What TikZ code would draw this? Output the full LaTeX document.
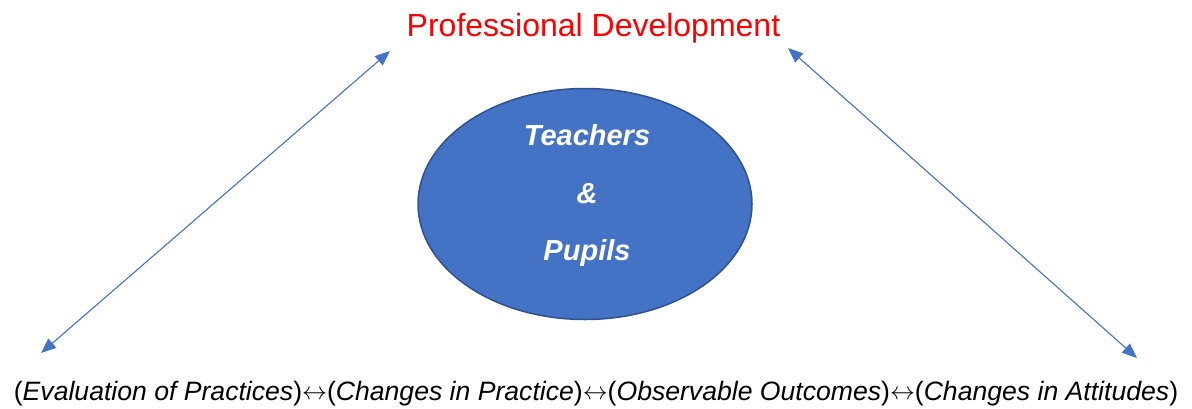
\documentclass[tikz,border=0pt]{standalone}
\usepackage{fontspec}
\setmainfont{Liberation Sans}
\usetikzlibrary{arrows.meta,shapes.geometric}
\definecolor{officeblue}{HTML}{4472C4}
\definecolor{officeedge}{HTML}{2F528F}
\definecolor{titlered}{HTML}{FF0000}
% thin two-headed arrow between stages
\newcommand{\stagelink}{\raisebox{1pt}{$\leftrightarrow$}}
\tikzset{
  link/.style={draw=officeblue, line width=1.1pt,
    {Triangle[length=15pt,width=12pt]}-{Triangle[length=15pt,width=12pt]}},
  inner/.style={text=white, font=\fontsize{29}{32}\selectfont\bfseries\itshape, anchor=base},
  hub/.style={ellipse, fill=officeblue, draw=officeedge, line width=1.5pt,
    minimum width=334pt, minimum height=231pt, inner sep=0pt}
}
\begin{document}
\begin{tikzpicture}[x=1pt,y=-1pt]
  \useasboundingbox (0,0) rectangle (1192,408);
  % central group
  \node[hub] (hub) at (585,204) {};
  \node[inner] (teach) at (587,145) {Teachers};
  \node[inner] (amp) at (587,203) {\&};
  \node[inner] (pupil) at (587,260) {Pupils};
  % title
  \node[text=titlered, font=\fontsize{32}{36}\selectfont, anchor=base, inner sep=0pt]
    (title) at (593.5,36) {Professional Development};
  % chain of stages
  \node[font=\fontsize{26.6}{30}\selectfont, anchor=base, inner sep=0pt] (chain) at (596,400)
    {(\textit{Evaluation of Practices})\stagelink(\textit{Changes in Practice})\stagelink(\textit{Observable Outcomes})\stagelink(\textit{Changes in Attitudes})};
  % arrow ends
  \coordinate (la) at (41,353);
  \coordinate (lb) at (390,51);
  \coordinate (ra) at (788,48);
  \coordinate (rb) at (1137,358);
  \draw[link] (la) -- (lb);
  \draw[link] (ra) -- (rb);
\end{tikzpicture}
\end{document}
